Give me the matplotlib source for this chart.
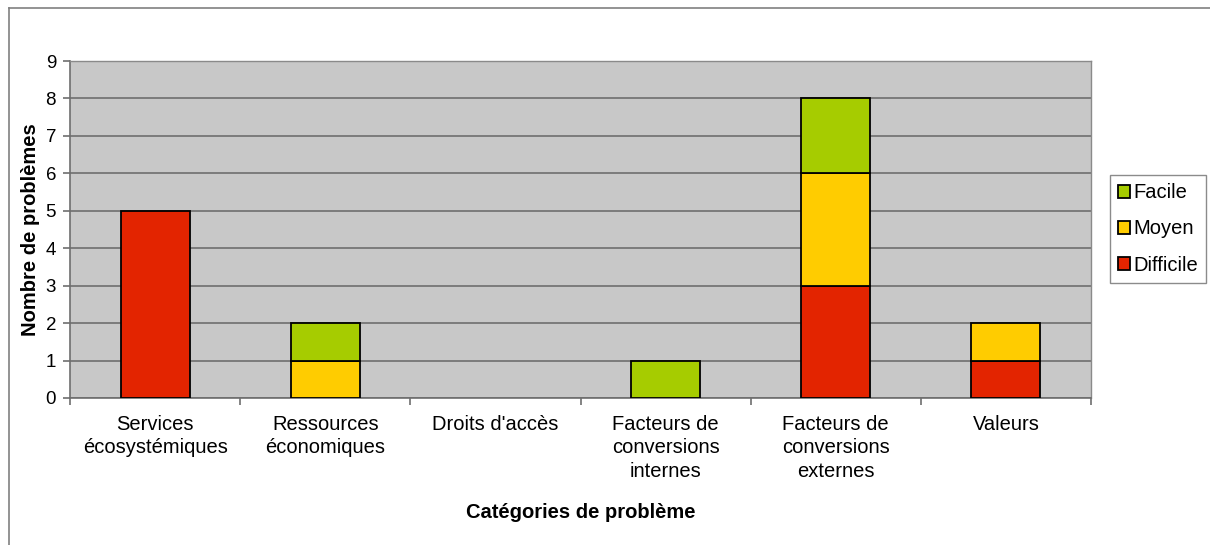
import matplotlib
matplotlib.use("Agg")
import matplotlib.pyplot as plt
import numpy as np

categories = ["Services\nécosystémiques", "Ressources\néconomiques", "Droits d'accès",
              "Facteurs de\nconversions\ninternes", "Facteurs de\nconversions\nexternes", "Valeurs"]
difficile = [5, 0, 0, 0, 3, 1]
moyen = [0, 1, 0, 0, 3, 1]
facile = [0, 1, 0, 1, 2, 0]
series_names = ["Difficile", "Moyen", "Facile"]
colors = ["#E32400", "#FFCC00", "#A6CC00"]
yticks = list(range(0, 10))

plt.rcParams['font.family'] = ['Liberation Sans', 'DejaVu Sans']

fig = plt.figure(figsize=(12.1, 5.45), dpi=100)
ax = fig.add_axes([70/1210, 1-398/545, (1091-70)/1210, (398-61)/545])
ax.set_facecolor("#C8C8C8")

x = np.arange(len(categories))
bottom = np.zeros(len(categories))
handles = []
for vals, name, c in zip([difficile, moyen, facile], series_names, colors):
    vals = np.array(vals, dtype=float)
    mask = vals > 0
    b = ax.bar(x[mask], vals[mask], width=0.405, bottom=bottom[mask], color=c,
               edgecolor="black", linewidth=1.3, zorder=3, label=name)
    bottom += vals
    handles.append(b)

ax.set_xlim(-0.5, len(categories) - 0.5)
ax.set_ylim(0, 9)
ax.set_yticks(yticks)
ax.yaxis.grid(True, color="#6E6E6E", linewidth=1.2, zorder=1)
ax.set_axisbelow(True)

ax.set_xticks(x)
ax.set_xticklabels(categories, fontsize=14.5, linespacing=1.3, va="top")
ax.set_xticks(np.arange(-0.5, len(categories)), minor=True)
ax.tick_params(axis="x", which="major", length=0, pad=12)
ax.tick_params(axis="x", which="minor", length=5, color="#6E6E6E", width=1.2)
ax.tick_params(axis="y", labelsize=13.5, length=5, color="#6E6E6E", width=1.2, pad=5)

for s in ["top", "right"]:
    ax.spines[s].set_visible(True)
    ax.spines[s].set_color("#8A8A8A")
    ax.spines[s].set_linewidth(1.0)
ax.spines["left"].set_color("#6E6E6E")
ax.spines["left"].set_linewidth(1.2)
ax.spines["bottom"].set_color("#6E6E6E")
ax.spines["bottom"].set_linewidth(1.2)

ax.set_xlabel("Catégories de problème", fontsize=14.5, fontweight="bold", labelpad=16)
ax.set_ylabel("Nombre de problèmes", fontsize=14.5, fontweight="bold", labelpad=4)

leg = ax.legend(handles[::-1], [series_names[2], series_names[1], series_names[0]],
                loc="center left", bbox_to_anchor=(1110/1210, 1-229/545),
                bbox_transform=fig.transFigure, fontsize=14.5, frameon=True,
                fancybox=False, edgecolor="#6E6E6E", handlelength=0.6,
                handleheight=0.6, handletextpad=0.15, labelspacing=0.85,
                borderpad=0.4, borderaxespad=0)
leg.get_frame().set_linewidth(1.0)

# outer border
fig.add_artist(plt.Line2D([8.5/1210, 8.5/1210], [0, 1-7.5/545], color="#808080", linewidth=1.2,
                          transform=fig.transFigure))
fig.add_artist(plt.Line2D([8.5/1210, 1], [1-7.5/545, 1-7.5/545], color="#808080", linewidth=1.2,
                          transform=fig.transFigure))

fig.savefig("out.png", dpi=100)
